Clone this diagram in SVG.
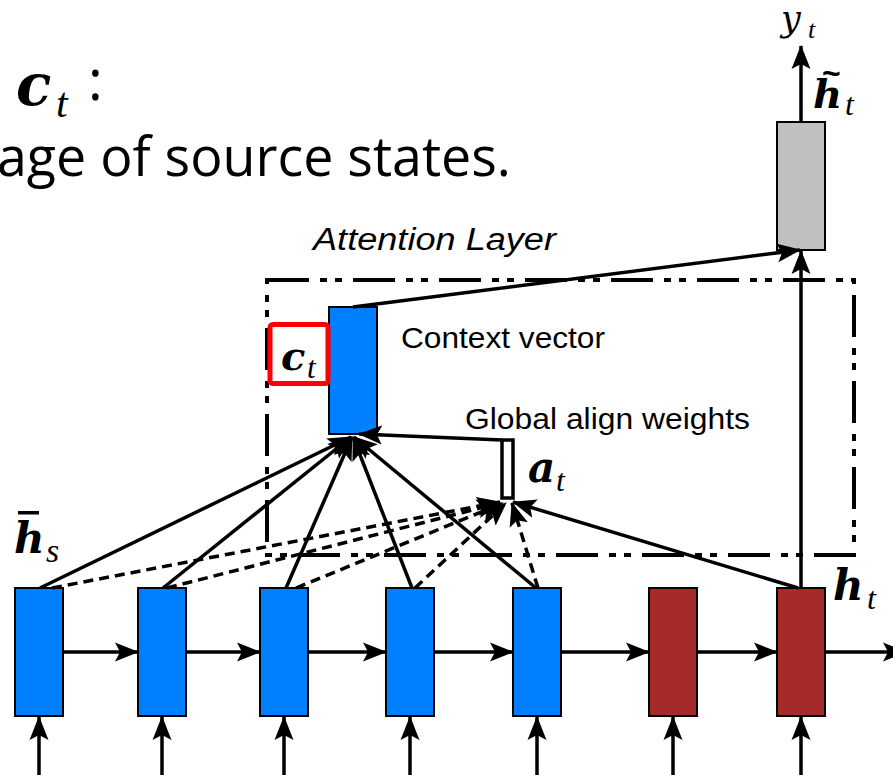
<svg xmlns="http://www.w3.org/2000/svg" width="893" height="775" viewBox="0 0 893 775">
  <style>
    .cell { stroke: #000; stroke-width: 2; }
    .src { fill: #0080FF; }
    .tgt { fill: #A52A2A; }
    .att { fill: #C0C0C0; }
    .wire { fill: none; stroke: #000; stroke-width: 3.5; }
    .dash { fill: none; stroke: #000; stroke-width: 3.5; stroke-dasharray: 10 6; }
    .lbl { font-family: "Liberation Sans", Arial, sans-serif; font-size: 30px; fill: #000; }
    .bm { font-family: "DejaVu Serif", serif; font-weight: bold; font-style: italic; fill: #000; }
    .it { font-family: "Liberation Serif", "Times New Roman", serif; font-style: italic; fill: #000; }
    .mi { font-family: "DejaVu Serif", serif; font-style: italic; fill: #000; }
    .slide { font-family: "Open Sans", "Noto Sans", sans-serif; fill: #000; }
  </style>
  <defs>
    <marker id="head" markerUnits="userSpaceOnUse" viewBox="0 0 24 22" markerWidth="24" markerHeight="22" refX="23" refY="11" orient="auto">
      <path d="M0,1.5 L24,11 L0,20.5 L5,11 Z" fill="#000" stroke="none"/>
    </marker>
  </defs>

  <rect width="893" height="775" fill="#fff"/>

  <!-- slide heading text -->
  <g id="heading">
    <text class="bm" x="16" y="105" font-size="58">c</text>
    <text class="it" x="56" y="117" font-size="42">t</text>
    <text class="slide" x="88" y="100" font-size="56">:</text>
    <text class="slide" x="-3" y="176" font-size="54" textLength="514" lengthAdjust="spacingAndGlyphs">age of source states.</text>
  </g>

  <!-- attention layer frame -->
  <g id="attention-layer">
    <rect x="267" y="280" width="587" height="275" fill="none" stroke="#000" stroke-width="4" stroke-dasharray="42 11 7 8 7 11"/>
    <text x="313" y="250" font-family="Liberation Sans, Arial, sans-serif" font-style="italic" font-size="31" textLength="243" lengthAdjust="spacingAndGlyphs">Attention Layer</text>
  </g>

  <!-- source encoder states -->
  <g id="src1"><rect class="cell src" x="15" y="588" width="48" height="128"/></g>
  <g id="src2"><rect class="cell src" x="138" y="588" width="48" height="128"/></g>
  <g id="src3"><rect class="cell src" x="260" y="588" width="48" height="128"/></g>
  <g id="src4"><rect class="cell src" x="386" y="588" width="48" height="128"/></g>
  <g id="src5"><rect class="cell src" x="513" y="588" width="48" height="128"/></g>
  <!-- target decoder states -->
  <g id="tgt1"><rect class="cell tgt" x="649" y="588" width="48" height="128"/></g>
  <g id="tgt2"><rect class="cell tgt" x="777" y="588" width="48" height="128"/></g>

  <!-- attentional hidden state -->
  <g id="attn-hidden"><rect class="cell att" x="777" y="122" width="48" height="128"/></g>

  <!-- context vector -->
  <g id="context">
    <rect class="cell src" x="329" y="307" width="48" height="127"/>
    <text class="lbl" x="401" y="348" textLength="204" lengthAdjust="spacingAndGlyphs">Context vector</text>
  </g>

  <!-- alignment weights -->
  <g id="align">
    <rect x="502" y="440" width="11" height="58" fill="#fff" stroke="#000" stroke-width="3.5"/>
    <text class="lbl" x="465" y="429" textLength="285" lengthAdjust="spacingAndGlyphs">Global align weights</text>
  </g>

  <!-- connectors -->
  <g id="connectors">
    <!-- recurrent links -->
    <line class="wire" x1="63" y1="652" x2="138" y2="652" marker-end="url(#head)"/>
    <line class="wire" x1="186" y1="652" x2="260" y2="652" marker-end="url(#head)"/>
    <line class="wire" x1="308" y1="652" x2="386" y2="652" marker-end="url(#head)"/>
    <line class="wire" x1="434" y1="652" x2="513" y2="652" marker-end="url(#head)"/>
    <line class="wire" x1="561" y1="652" x2="649" y2="652" marker-end="url(#head)"/>
    <line class="wire" x1="697" y1="652" x2="777" y2="652" marker-end="url(#head)"/>
    <line class="wire" x1="825" y1="652" x2="906" y2="652" marker-end="url(#head)"/>
    <!-- inputs -->
    <line class="wire" x1="39" y1="780" x2="39" y2="717" marker-end="url(#head)"/>
    <line class="wire" x1="162" y1="780" x2="162" y2="717" marker-end="url(#head)"/>
    <line class="wire" x1="284" y1="780" x2="284" y2="717" marker-end="url(#head)"/>
    <line class="wire" x1="410" y1="780" x2="410" y2="717" marker-end="url(#head)"/>
    <line class="wire" x1="537" y1="780" x2="537" y2="717" marker-end="url(#head)"/>
    <line class="wire" x1="673" y1="780" x2="673" y2="717" marker-end="url(#head)"/>
    <line class="wire" x1="801" y1="780" x2="801" y2="717" marker-end="url(#head)"/>

    <!-- source states into the context vector -->
    <line class="wire" x1="40" y1="588" x2="351" y2="437" marker-end="url(#head)"/>
    <line class="wire" x1="163" y1="588" x2="351" y2="437" marker-end="url(#head)"/>
    <line class="wire" x1="286" y1="588" x2="352" y2="437" marker-end="url(#head)"/>
    <line class="wire" x1="412" y1="588" x2="353" y2="437" marker-end="url(#head)"/>
    <line class="wire" x1="536" y1="588" x2="354" y2="437" marker-end="url(#head)"/>

    <!-- source states into the alignment weights -->
    <line class="dash" x1="52" y1="588" x2="500" y2="502" marker-end="url(#head)"/>
    <line class="dash" x1="167" y1="588" x2="500" y2="503" marker-end="url(#head)"/>
    <line class="dash" x1="296" y1="588" x2="503" y2="503" marker-end="url(#head)"/>
    <line class="dash" x1="415" y1="588" x2="506" y2="503" marker-end="url(#head)"/>
    <line class="dash" x1="538" y1="588" x2="512" y2="503" marker-end="url(#head)"/>
    <!-- target state into the alignment weights -->
    <line class="wire" x1="798" y1="588" x2="513" y2="502" marker-end="url(#head)"/>

    <!-- weights into the context vector -->
    <line class="wire" x1="502" y1="440" x2="359" y2="434" marker-end="url(#head)"/>

    <!-- context and target state into attentional state -->
    <line class="wire" x1="353" y1="307" x2="800" y2="250" marker-end="url(#head)"/>
    <line class="wire" x1="801" y1="588" x2="801" y2="251" marker-end="url(#head)"/>
    <line class="wire" x1="801" y1="122" x2="801" y2="46" marker-end="url(#head)"/>
  </g>

  <!-- math labels -->
  <g id="labels">
    <!-- c_t highlight -->
    <rect x="270" y="324.5" width="58" height="59" rx="3" fill="none" stroke="#FF0000" stroke-width="5"/>
    <text class="bm" x="281" y="370" font-size="40">c</text>
    <text class="it" x="307" y="378" font-size="31">t</text>

    <!-- h-bar_s -->
    <rect x="18" y="511" width="21" height="3.5" fill="#000"/>
    <text class="bm" x="14" y="553" font-size="42">h</text>
    <text class="it" x="46" y="562" font-size="34">s</text>

    <!-- a_t -->
    <text class="bm" x="528" y="482" font-size="42">a</text>
    <text class="it" x="556" y="491" font-size="32">t</text>

    <!-- h_t -->
    <text class="bm" x="833" y="600" font-size="42">h</text>
    <text class="it" x="867" y="609" font-size="32">t</text>

    <!-- h-tilde_t -->
    <text class="bm" x="813" y="108" font-size="40">h</text>
    <text x="822" y="84" font-family="Liberation Sans, Arial, sans-serif" font-weight="bold" font-size="32">~</text>
    <text class="it" x="845" y="115" font-size="32">t</text>

    <!-- y_t -->
    <text class="mi" x="781" y="31" font-size="35">y</text>
    <text class="it" x="808" y="38" font-size="26">t</text>
  </g>
</svg>
